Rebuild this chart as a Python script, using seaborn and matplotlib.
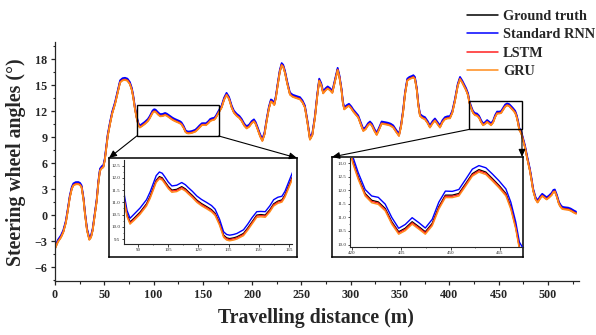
import matplotlib
matplotlib.use("Agg")
import matplotlib.pyplot as plt
from matplotlib.patches import Rectangle, ConnectionPatch
from matplotlib.lines import Line2D
from matplotlib.ticker import MultipleLocator, FormatStrFormatter
import seaborn as sns
import pandas as pd

# ---------------- data ----------------
distance = [0, 3, 6, 8.4, 11, 13, 15, 17, 18.6, 21, 23.7, 25.5, 27, 29, 30.4, 32.5, 34.8, 36.5, 38.2, 40,
            42.3, 44, 45.6, 47.5, 49, 50.5, 51.7, 53.5, 55.8, 58, 60.9, 63.5, 66, 68.5, 71, 73.5, 76, 78, 79.4, 81,
            82.8, 84.5, 86, 88, 91, 94.2, 96, 97.6, 99, 100.6, 102, 103.4, 105, 106.8, 109.2, 111.7, 113.5, 115, 117, 119.2,
            121.5, 124.2, 126.5, 128.3, 130.5, 132.5, 134, 135.5, 137.5, 139.1, 142.4, 144.5, 146.6, 149, 151, 153.2, 155.5, 157.4, 159.5, 161.5,
            163, 164, 166, 169, 171.5, 174, 176.5, 179.2, 181.5, 184.3, 187, 189.3, 192, 194.4, 197, 199.5, 201.8, 203.5, 205.5, 208,
            210.3, 212.5, 214.7, 217, 219, 220.5, 222.4, 224, 225.8, 228, 229.9, 231.5, 233.3, 235.5, 238.3, 241, 243.4, 246, 248.5, 251,
            253.5, 256, 258.6, 261, 263.7, 266, 268, 270, 272, 274.5, 276.6, 279, 281.3, 284, 286.7, 288.5, 290.7, 292, 293.4, 296,
            298.2, 300.5, 302.6, 305, 307.6, 310, 312.7, 315, 317.5, 319.5, 321.5, 324, 326.3, 328.5, 331.3, 334, 336, 338, 340.5, 343.1,
            346, 348.9, 351, 353.2, 355, 357.3, 359.5, 361.8, 363.5, 365.1, 367, 368.5, 370.2, 372.5, 375.3, 378, 380.3, 383, 385.4, 388,
            390.5, 393, 395.5, 398, 400.6, 403, 405.7, 408.5, 410.8, 413, 414.8, 417, 419, 420.2, 421.9, 424, 426, 428, 430.1, 432.1,
            434.2, 436.2, 438.3, 440.3, 442.3, 444.4, 446.4, 448.4, 450.5, 452.5, 454.6, 456.6, 458.6, 460.7, 462.7, 464.7, 466.8, 468.3, 469.8, 470.9,
            473, 476.7, 479, 481.7, 483.5, 485, 487.5, 489.5, 492, 494.2, 496.5, 498.7, 501, 503.7, 505.5, 507, 509, 511.2, 513, 514.6,
            517, 520.6, 523, 526.7, 528.5]

ground_truth = [-3.80, -3.00, -2.50, -1.90, -0.80, 0.60, 2.10, 3.10, 3.50, 3.65, 3.66, 3.55, 3.27, 1.80, 0.20, -1.70, -2.76, -2.50, -1.70, -0.20,
                1.70, 3.80, 5.20, 5.50, 5.60, 6.40, 7.50, 9.20, 10.60, 11.80, 12.90, 14.20, 15.40, 15.65, 15.70, 15.60, 15.20, 14.50, 13.65, 12.40,
                11.30, 10.50, 10.20, 10.35, 10.60, 10.94, 11.25, 11.60, 11.90, 12.05, 12.00, 11.84, 11.65, 11.50, 11.53, 11.64, 11.55, 11.43, 11.28, 11.09,
                10.95, 10.82, 10.70, 10.55, 10.15, 9.66, 9.55, 9.52, 9.55, 9.59, 9.73, 9.95, 10.20, 10.48, 10.50, 10.48, 10.70, 10.94, 11.05, 11.10,
                11.30, 11.50, 11.90, 12.50, 13.40, 13.96, 13.50, 12.50, 11.90, 11.54, 11.30, 10.96, 10.40, 10.10, 10.30, 10.70, 10.90, 10.60, 10.00, 9.20,
                8.65, 9.40, 10.96, 12.40, 13.20, 13.10, 12.80, 13.60, 15.00, 16.60, 17.40, 17.20, 16.50, 15.30, 14.00, 13.75, 13.65, 13.55, 13.46, 13.10,
                12.50, 10.80, 8.80, 9.30, 11.35, 13.80, 15.60, 15.10, 14.15, 14.50, 14.70, 14.50, 14.20, 15.50, 16.85, 16.00, 14.40, 13.00, 12.30, 12.55,
                12.70, 12.40, 12.03, 11.70, 11.35, 10.60, 9.80, 10.00, 10.45, 10.65, 10.40, 9.80, 9.35, 9.90, 10.65, 10.60, 10.55, 10.50, 10.40, 10.20,
                9.70, 9.23, 10.30, 12.10, 14.00, 15.60, 15.80, 15.90, 16.00, 15.80, 14.50, 12.80, 11.54, 11.30, 11.15, 10.70, 10.20, 10.70, 11.00, 10.60,
                10.20, 10.80, 11.15, 11.25, 11.27, 11.90, 13.27, 15.00, 15.80, 15.40, 15.00, 14.50, 13.90, 13.10, 12.49, 11.88, 11.63, 11.57, 11.33, 10.84,
                10.47, 10.60, 10.84, 10.66, 10.47, 10.78, 11.39, 11.82, 11.82, 11.88, 12.25, 12.61, 12.76, 12.67, 12.43, 12.18, 11.88, 11.39, 10.66, 9.92,
                9.50, 7.90, 6.60, 5.20, 4.00, 2.90, 1.90, 1.54, 2.00, 2.30, 2.10, 1.90, 2.10, 2.40, 2.75, 2.80, 2.20, 1.35, 1.00, 0.80,
                0.75, 0.70, 0.60, 0.35, 0.25]

standard_rnn = [-3.63, -2.83, -2.33, -1.73, -0.63, 0.77, 2.27, 3.27, 3.67, 3.82, 3.83, 3.72, 3.44, 1.97, 0.37, -1.53, -2.59, -2.33, -1.53, -0.03,
                1.87, 3.97, 5.37, 5.67, 5.77, 6.57, 7.67, 9.37, 10.77, 11.97, 13.07, 14.37, 15.57, 15.82, 15.87, 15.77, 15.37, 14.67, 13.82, 12.57,
                11.47, 10.67, 10.35, 10.52, 10.77, 11.11, 11.43, 11.78, 12.09, 12.24, 12.19, 12.03, 11.83, 11.67, 11.70, 11.81, 11.72, 11.60, 11.45, 11.26,
                11.12, 10.99, 10.87, 10.72, 10.31, 9.80, 9.69, 9.66, 9.69, 9.73, 9.88, 10.11, 10.37, 10.62, 10.63, 10.62, 10.86, 11.11, 11.21, 11.25,
                11.45, 11.66, 12.07, 12.67, 13.57, 14.13, 13.67, 12.67, 12.07, 11.71, 11.47, 11.13, 10.57, 10.27, 10.47, 10.87, 11.07, 10.77, 10.17, 9.37,
                8.82, 9.57, 11.13, 12.57, 13.37, 13.27, 12.97, 13.77, 15.17, 16.77, 17.57, 17.37, 16.67, 15.47, 14.17, 13.92, 13.82, 13.72, 13.63, 13.27,
                12.67, 10.97, 8.97, 9.47, 11.52, 13.97, 15.77, 15.27, 14.32, 14.67, 14.87, 14.67, 14.37, 15.67, 17.02, 16.17, 14.57, 13.17, 12.47, 12.72,
                12.87, 12.57, 12.20, 11.87, 11.52, 10.77, 9.97, 10.17, 10.62, 10.82, 10.57, 9.97, 9.52, 10.07, 10.82, 10.77, 10.72, 10.67, 10.57, 10.37,
                9.87, 9.40, 10.47, 12.27, 14.17, 15.77, 15.97, 16.07, 16.17, 15.97, 14.67, 12.97, 11.71, 11.47, 11.32, 10.87, 10.37, 10.87, 11.17, 10.77,
                10.37, 10.97, 11.32, 11.42, 11.44, 12.07, 13.44, 15.17, 15.97, 15.57, 15.17, 14.67, 14.07, 13.26, 12.65, 12.03, 11.79, 11.74, 11.49, 11.00,
                10.60, 10.74, 10.99, 10.81, 10.61, 10.93, 11.56, 11.97, 11.96, 12.03, 12.41, 12.78, 12.91, 12.83, 12.60, 12.35, 12.05, 11.56, 10.83, 10.09,
                9.67, 8.07, 6.77, 5.37, 4.17, 3.07, 2.07, 1.71, 2.17, 2.47, 2.27, 2.07, 2.27, 2.57, 2.92, 2.97, 2.37, 1.52, 1.17, 0.97,
                0.92, 0.87, 0.77, 0.52, 0.42]

lstm = [-3.84, -3.04, -2.54, -1.94, -0.84, 0.56, 2.06, 3.06, 3.46, 3.61, 3.62, 3.51, 3.23, 1.76, 0.16, -1.74, -2.80, -2.54, -1.74, -0.24,
        1.66, 3.76, 5.16, 5.46, 5.56, 6.36, 7.46, 9.16, 10.56, 11.76, 12.86, 14.16, 15.36, 15.61, 15.66, 15.56, 15.16, 14.46, 13.61, 12.36,
        11.26, 10.46, 10.16, 10.31, 10.56, 10.90, 11.21, 11.56, 11.86, 12.01, 11.96, 11.80, 11.61, 11.46, 11.49, 11.60, 11.51, 11.39, 11.24, 11.05,
        10.91, 10.78, 10.66, 10.51, 10.11, 9.62, 9.51, 9.48, 9.51, 9.55, 9.69, 9.91, 10.16, 10.44, 10.46, 10.44, 10.66, 10.90, 11.01, 11.06,
        11.26, 11.46, 11.86, 12.46, 13.36, 13.92, 13.46, 12.46, 11.86, 11.50, 11.26, 10.92, 10.36, 10.06, 10.26, 10.66, 10.86, 10.56, 9.96, 9.16,
        8.61, 9.36, 10.92, 12.36, 13.16, 13.06, 12.76, 13.56, 14.96, 16.56, 17.36, 17.16, 16.46, 15.26, 13.96, 13.71, 13.61, 13.51, 13.42, 13.06,
        12.46, 10.76, 8.76, 9.26, 11.31, 13.76, 15.56, 15.06, 14.11, 14.46, 14.66, 14.46, 14.16, 15.46, 16.81, 15.96, 14.36, 12.96, 12.26, 12.51,
        12.66, 12.36, 11.99, 11.66, 11.31, 10.56, 9.76, 9.96, 10.41, 10.61, 10.36, 9.76, 9.31, 9.86, 10.61, 10.56, 10.51, 10.46, 10.36, 10.16,
        9.66, 9.19, 10.26, 12.06, 13.96, 15.56, 15.76, 15.86, 15.96, 15.76, 14.46, 12.76, 11.50, 11.26, 11.11, 10.66, 10.16, 10.66, 10.96, 10.56,
        10.16, 10.76, 11.11, 11.21, 11.23, 11.86, 13.23, 14.96, 15.76, 15.36, 14.96, 14.46, 13.86, 13.06, 12.45, 11.84, 11.59, 11.53, 11.29, 10.80,
        10.43, 10.56, 10.80, 10.62, 10.43, 10.74, 11.35, 11.78, 11.78, 11.84, 12.21, 12.57, 12.72, 12.63, 12.39, 12.14, 11.84, 11.35, 10.62, 9.88,
        9.46, 7.86, 6.56, 5.16, 3.96, 2.86, 1.86, 1.50, 1.96, 2.26, 2.06, 1.86, 2.06, 2.36, 2.71, 2.76, 2.16, 1.31, 0.96, 0.76,
        0.71, 0.66, 0.56, 0.31, 0.21]

gru = [-3.89, -3.09, -2.59, -1.99, -0.89, 0.51, 2.01, 3.01, 3.41, 3.56, 3.57, 3.46, 3.18, 1.71, 0.11, -1.79, -2.85, -2.59, -1.79, -0.29,
       1.61, 3.71, 5.11, 5.41, 5.51, 6.31, 7.41, 9.11, 10.51, 11.71, 12.81, 14.11, 15.31, 15.56, 15.61, 15.51, 15.11, 14.41, 13.56, 12.31,
       11.21, 10.41, 10.11, 10.26, 10.51, 10.85, 11.16, 11.51, 11.81, 11.96, 11.91, 11.75, 11.56, 11.41, 11.44, 11.55, 11.46, 11.34, 11.19, 11.00,
       10.86, 10.73, 10.61, 10.46, 10.06, 9.57, 9.46, 9.43, 9.46, 9.50, 9.64, 9.86, 10.11, 10.39, 10.41, 10.39, 10.61, 10.85, 10.96, 11.01,
       11.21, 11.41, 11.81, 12.41, 13.31, 13.87, 13.41, 12.41, 11.81, 11.45, 11.21, 10.87, 10.31, 10.01, 10.21, 10.61, 10.81, 10.51, 9.91, 9.11,
       8.56, 9.31, 10.87, 12.31, 13.11, 13.01, 12.71, 13.51, 14.91, 16.51, 17.31, 17.11, 16.41, 15.21, 13.91, 13.66, 13.56, 13.46, 13.37, 13.01,
       12.41, 10.71, 8.71, 9.21, 11.26, 13.71, 15.51, 15.01, 14.06, 14.41, 14.61, 14.41, 14.11, 15.41, 16.76, 15.91, 14.31, 12.91, 12.21, 12.46,
       12.61, 12.31, 11.94, 11.61, 11.26, 10.51, 9.71, 9.91, 10.36, 10.56, 10.31, 9.71, 9.26, 9.81, 10.56, 10.51, 10.46, 10.41, 10.31, 10.11,
       9.61, 9.14, 10.21, 12.01, 13.91, 15.51, 15.71, 15.81, 15.91, 15.71, 14.41, 12.71, 11.45, 11.21, 11.06, 10.61, 10.11, 10.61, 10.91, 10.51,
       10.11, 10.71, 11.06, 11.16, 11.18, 11.81, 13.18, 14.91, 15.71, 15.31, 14.91, 14.41, 13.81, 13.01, 12.40, 11.79, 11.54, 11.48, 11.24, 10.75,
       10.38, 10.51, 10.75, 10.57, 10.38, 10.69, 11.30, 11.73, 11.73, 11.79, 12.16, 12.52, 12.67, 12.58, 12.34, 12.09, 11.79, 11.30, 10.57, 9.83,
       9.41, 7.81, 6.51, 5.11, 3.91, 2.81, 1.81, 1.45, 1.91, 2.21, 2.01, 1.81, 2.01, 2.31, 2.66, 2.71, 2.11, 1.26, 0.91, 0.71,
       0.66, 0.61, 0.51, 0.26, 0.16]

model_names = ["Ground truth", "Standard RNN", "LSTM", "GRU"]
model_colors = ["#000000", "#0000FF", "#FF2020", "#FF8C1A"]
x_ticks = [0, 50, 100, 150, 200, 250, 300, 350, 400, 450, 500]
y_ticks = [-6, -3, 0, 3, 6, 9, 12, 15, 18]
inset1_xticks = [90, 105, 120, 135, 150, 165]
inset1_yticks = [9.5, 10.0, 10.5, 11.0, 11.5, 12.0, 12.5]
inset2_xticks = [420, 435, 450, 465]
inset2_yticks = [10.0, 10.5, 11.0, 11.5, 12.0, 12.5, 13.0]

# long-form table for seaborn
frames = []
for name, vals in zip(model_names, [ground_truth, standard_rnn, lstm, gru]):
    frames.append(pd.DataFrame({"distance": distance, "angle": vals, "model": name}))
df = pd.concat(frames, ignore_index=True)
palette = dict(zip(model_names, model_colors))

# ---------------- style ----------------
sns.set_theme(style="ticks")
plt.rcParams["font.family"] = ["Liberation Serif", "DejaVu Serif"]
plt.rcParams["font.weight"] = "bold"
plt.rcParams["axes.linewidth"] = 0.9

W, H = 596, 335
def fr(x0, y0, x1, y1):
    return [x0 / W, 1 - y1 / H, (x1 - x0) / W, (y1 - y0) / H]

fig = plt.figure(figsize=(W / 100, H / 100), dpi=100)
fig.patch.set_facecolor("white")

# ---------------- main axes ----------------
ax = fig.add_axes(fr(55, 42, 579, 281))
sns.lineplot(data=df, x="distance", y="angle", hue="model", hue_order=model_names,
             palette=palette, estimator=None, sort=False, legend=False, linewidth=1.25, ax=ax)
ax.set_xlim(0, 531.5)
ax.set_ylim(-7.6, 20)
ax.set_xticks(x_ticks)
ax.set_yticks(y_ticks)
ax.xaxis.set_minor_locator(MultipleLocator(25))
ax.yaxis.set_minor_locator(MultipleLocator(1.5))
ax.tick_params(which="major", direction="out", length=3, width=0.9, labelsize=8.7, pad=2.5)
ax.tick_params(which="minor", direction="out", length=1.8, width=0.8)
for lab in ax.get_xticklabels() + ax.get_yticklabels():
    lab.set_fontweight("bold")
sns.despine(ax=ax)
ax.set_xlabel("")
ax.set_ylabel("")
fig.text(316 / W, 1 - 318 / H, "Travelling distance (m)", ha="center", va="center",
         fontsize=14.3, fontweight="bold")
fig.text(16 / W, 1 - 162 / H, "Steering wheel angles (°)", ha="center", va="center",
         rotation=90, fontsize=14.2, fontweight="bold")

# zoom rectangles on the main axes
ax.add_patch(Rectangle((83, 9.15), 83, 3.58, fill=False, edgecolor="black", lw=1.0, zorder=5))
ax.add_patch(Rectangle((420, 9.9), 53.6, 3.25, fill=False, edgecolor="black", lw=1.0, zorder=5))

# legend
handles = [Line2D([0], [0], color=c, lw=1.1) for c in model_colors]
leg = fig.legend(handles, model_names, loc="upper left", bbox_to_anchor=(467 / W, 1 - 9.5 / H),
                 frameon=False, fontsize=10.3, handlelength=2.17, handletextpad=0.35,
                 labelspacing=0.39, borderpad=0, borderaxespad=0)
for t in leg.get_texts():
    t.set_fontweight("bold")

# ---------------- insets ----------------
def make_inset(frame_px, inner_px, xlim, ylim, xticks, yticks, xminor, yminor):
    fa = fig.add_axes(fr(*frame_px))
    fa.set_facecolor("white")
    fa.set_xticks([])
    fa.set_yticks([])
    for s in fa.spines.values():
        s.set_linewidth(1.1)
        s.set_color("black")
    fa.set_zorder(5)
    ia = fig.add_axes(fr(*inner_px))
    ia.set_zorder(6)
    ia.patch.set_alpha(0)
    sns.lineplot(data=df, x="distance", y="angle", hue="model", hue_order=model_names,
                 palette=palette, estimator=None, sort=False, legend=False, linewidth=1.0, ax=ia)
    ia.set_xlim(*xlim)
    ia.set_ylim(*ylim)
    ia.set_xticks(xticks)
    ia.set_yticks(yticks)
    ia.xaxis.set_minor_locator(MultipleLocator(xminor))
    ia.yaxis.set_minor_locator(MultipleLocator(yminor))
    ia.yaxis.set_major_formatter(FormatStrFormatter("%.1f"))
    ia.tick_params(which="major", direction="out", length=1.8, width=0.6, labelsize=3.6, pad=1)
    ia.tick_params(which="minor", direction="out", length=1.0, width=0.5)
    for lab in ia.get_xticklabels() + ia.get_yticklabels():
        lab.set_fontweight("normal")
    ia.spines["top"].set_visible(False)
    ia.spines["right"].set_visible(False)
    ia.spines["left"].set_linewidth(0.8)
    ia.spines["bottom"].set_linewidth(0.8)
    ia.set_xlabel("")
    ia.set_ylabel("")
    return fa, ia

make_inset((109, 158, 297, 257), (124, 160, 292, 244), (83, 166.5), (9.30, 12.73),
           inset1_xticks, inset1_yticks, 7.5, 0.25)
make_inset((332, 157, 523, 257), (350, 158, 523, 247), (419.4, 472), (9.91, 13.19),
           inset2_xticks, inset2_yticks, 7.5, 0.25)

# connector arrows
def connect(xy_data, px):
    con = ConnectionPatch(xyA=xy_data, coordsA=ax.transData,
                          xyB=(px[0] / W, 1 - px[1] / H), coordsB=fig.transFigure,
                          arrowstyle="-|>,head_length=0.45,head_width=0.2", color="black",
                          lw=0.8, mutation_scale=10, shrinkA=0, shrinkB=0, zorder=10)
    fig.add_artist(con)

connect((83, 9.15), (109, 158))
connect((166, 9.15), (297, 158))
connect((420, 9.9), (332, 157))
connect((473.6, 9.9), (522, 157))

fig.savefig("out.png", dpi=100)
